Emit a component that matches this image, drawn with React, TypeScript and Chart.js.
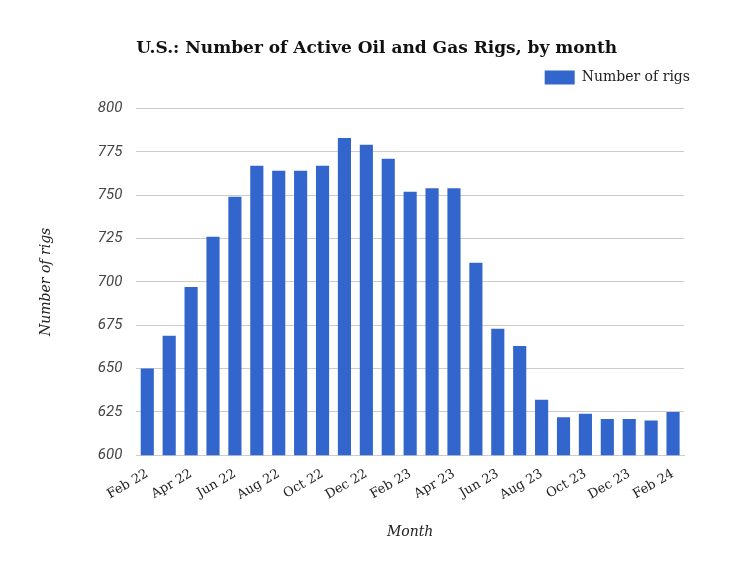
import React, { useEffect, useRef } from 'react';
import { Chart, registerables } from 'chart.js';

Chart.register(...registerables);

const months = [
  'Feb 22', 'Mar 22', 'Apr 22', 'May 22', 'Jun 22', 'Jul 22', 'Aug 22', 'Sep 22', 'Oct 22',
  'Nov 22', 'Dec 22', 'Jan 23', 'Feb 23', 'Mar 23', 'Apr 23', 'May 23', 'Jun 23', 'Jul 23',
  'Aug 23', 'Sep 23', 'Oct 23', 'Nov 23', 'Dec 23', 'Jan 24', 'Feb 24',
];
const rigCounts = [
  650, 669, 697, 726, 749, 767, 764, 764, 767, 783, 779, 771, 752, 754, 754, 711, 673, 663,
  632, 622, 624, 621, 621, 620, 625,
];
const yTicks = [600, 625, 650, 675, 700, 725, 750, 775, 800];

const barColor = '#3366cc';

const App = () => {
  const canvasRef = useRef<HTMLCanvasElement>(null);
  const chartRef = useRef<Chart | null>(null);

  useEffect(() => {
    document.body.style.margin = '0';
    if (!canvasRef.current) return;
    const ctx = canvasRef.current.getContext('2d');
    if (!ctx) return;

    chartRef.current = new Chart(ctx, {
      type: 'bar',
      data: {
        labels: months,
        datasets: [
          {
            label: 'Number of rigs',
            data: rigCounts,
            backgroundColor: barColor,
            borderWidth: 0,
            barPercentage: 0.6,
            categoryPercentage: 1,
          },
        ],
      },
      options: {
        animation: false,
        responsive: false,
        layout: { padding: { left: 38, right: 50, bottom: 22, top: 0 } },
        plugins: {
          title: {
            display: true,
            text: 'U.S.: Number of Active Oil and Gas Rigs, by month',
            align: 'start',
            fullSize: false,
            color: '#111',
            font: { family: 'DejaVu Serif', size: 17, weight: 'bold' },
            padding: { top: 38, bottom: 2 },
          },
          legend: {
            align: 'end',
            fullSize: true,
            labels: {
              boxWidth: 30,
              boxHeight: 14,
              color: '#222',
              font: { family: 'DejaVu Serif', size: 14 },
            },
          },
          tooltip: { enabled: false },
        },
        scales: {
          x: {
            grid: { display: false },
            border: { color: '#ccc' },
            ticks: {
              autoSkip: false,
              maxRotation: 30,
              minRotation: 30,
              color: '#222',
              font: { family: 'DejaVu Serif', size: 13 },
              callback: (_v, i) => (i % 2 === 0 ? months[i] : ''),
            },
            title: {
              display: true,
              text: 'Month',
              color: '#222',
              font: { family: 'DejaVu Serif', size: 14, style: 'italic' },
              padding: { top: 18, bottom: 0 },
            },
          },
          // empty spacer above the plot
          xTop: {
            type: 'category',
            position: 'top',
            grid: { display: false },
            border: { display: false },
            ticks: { display: false },
            afterFit: (s) => {
              s.height = 14;
            },
          },
          y: {
            min: 600,
            max: 800,
            afterBuildTicks: (axis) => {
              axis.ticks = yTicks.map((v) => ({ value: v }));
            },
            grid: { color: '#ccc', drawTicks: false },
            border: { display: false },
            ticks: {
              padding: 14,
              color: '#444',
              font: { family: 'Roboto', size: 15, style: 'italic' },
            },
            title: {
              display: true,
              text: 'Number of rigs',
              color: '#222',
              font: { family: 'DejaVu Serif', size: 14, style: 'italic' },
              padding: { top: 0, bottom: 29 },
            },
          },
          // empty spacer right of the plot
          yRight: {
            type: 'linear',
            position: 'right',
            grid: { display: false },
            border: { display: false },
            ticks: { display: false },
            afterFit: (s) => {
              s.width = 16;
            },
          },
        },
      },
    });

    return () => {
      chartRef.current?.destroy();
      chartRef.current = null;
    };
  }, []);

  return (
    <div style={{ width: 750, height: 563, background: '#fff' }}>
      <canvas ref={canvasRef} width={750} height={563} />
    </div>
  );
};

export default App;
